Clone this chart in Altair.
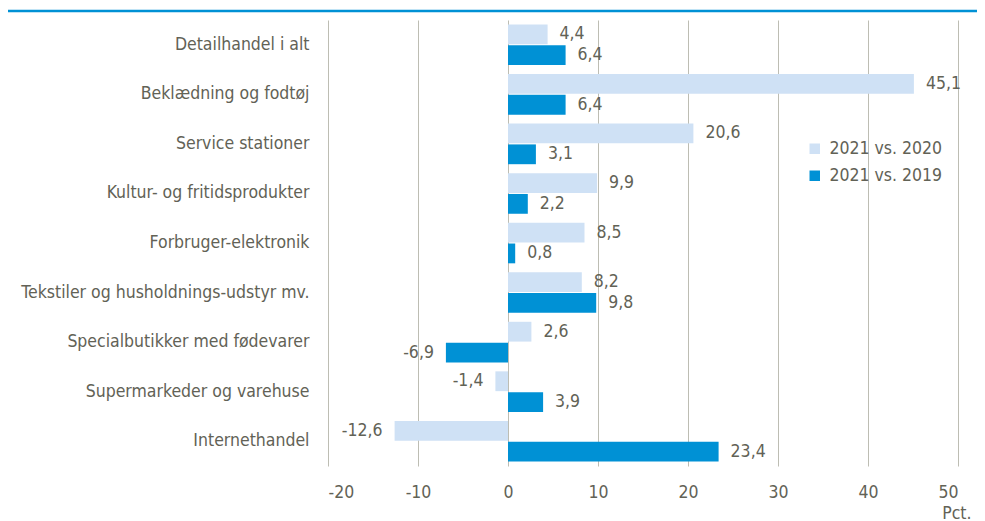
import altair as alt
import pandas as pd

categories = [
    "Detailhandel i alt",
    "Beklædning og fodtøj",
    "Service stationer",
    "Kultur- og fritidsprodukter",
    "Forbruger-elektronik",
    "Tekstiler og husholdnings-udstyr mv.",
    "Specialbutikker med fødevarer",
    "Supermarkeder og varehuse",
    "Internethandel",
]
series = ["2021 vs. 2020", "2021 vs. 2019"]
vs2020 = [4.4, 45.1, 20.6, 9.9, 8.5, 8.2, 2.6, -1.4, -12.6]
vs2019 = [6.4, 6.4, 3.1, 2.2, 0.8, 9.8, -6.9, 3.9, 23.4]
x_ticks = [-20, -10, 0, 10, 20, 30, 40, 50]

rows = []
for c, a, b in zip(categories, vs2020, vs2019):
    rows.append({"cat": c, "series": series[0], "v": a})
    rows.append({"cat": c, "series": series[1], "v": b})
df = pd.DataFrame(rows)
df["label"] = df["v"].map(lambda v: f"{v:.1f}".replace(".", ","))

FONT = "DejaVu Sans Condensed"
FS = 17.5
TXT = "#626256"
LIGHT = "#cfe1f5"
DARK = "#0091d5"

y_enc = alt.Y("cat:N", sort=categories, title=None,
              scale=alt.Scale(paddingInner=0.18, paddingOuter=0.09),
              axis=alt.Axis(ticks=False, domain=False, labelPadding=19,
                            labelFontSize=FS, labelColor=TXT, labelFont=FONT,
                            labelLimit=400))
yoff = alt.YOffset("series:N", sort=series, scale=alt.Scale(paddingInner=0.05))
x_enc = alt.X("v:Q", scale=alt.Scale(domain=[-20, 50], nice=False),
              axis=alt.Axis(values=x_ticks, ticks=False, domain=False,
                            labelExpr="toString(datum.value)",
                            labelPadding=17, labelFontSize=FS, labelColor=TXT,
                            labelFont=FONT, gridColor="#bdbdb3", gridWidth=1,
                            title="Pct.", titleAnchor="end", titleAlign="right",
                            titleX=643, titleY=38, titleFont=FONT, titleFontSize=FS,
                            titleFontWeight="normal", titleColor=TXT))

base = alt.Chart(df)

bars = base.mark_bar().encode(
    y=y_enc, yOffset=yoff, x=x_enc,
    color=alt.Color("series:N", sort=series,
                    scale=alt.Scale(domain=series, range=[LIGHT, DARK]),
                    legend=alt.Legend(title=None, orient="none", legendX=478, legendY=120,
                                      symbolType="square", symbolSize=110,
                                      symbolStrokeWidth=0, labelFontSize=FS,
                                      labelFont=FONT, labelColor=TXT,
                                      rowPadding=8, labelOffset=6)),
)

pos_labels = base.transform_filter("datum.v >= 0").mark_text(
    align="left", baseline="middle", dx=12, fontSize=FS, font=FONT, color=TXT
).encode(y=alt.Y("cat:N", sort=categories), yOffset=yoff, x="v:Q", text="label:N")

neg_labels = base.transform_filter("datum.v < 0").mark_text(
    align="right", baseline="middle", dx=-12, fontSize=FS, font=FONT, color=TXT
).encode(y=alt.Y("cat:N", sort=categories), yOffset=yoff, x="v:Q", text="label:N")

top_line = alt.Chart(pd.DataFrame({"a": [0]})).mark_rule(
    color="#0091d5", strokeWidth=2.5
).encode(x=alt.value(-320), x2=alt.value(660), y=alt.value(-9))

chart = alt.layer(bars, pos_labels, neg_labels, top_line).properties(
    width=630, height=446,
    autosize=alt.AutoSizeParams(type="none"),
    padding={"left": 320, "top": 12, "right": 19, "bottom": 55},
).configure_view(stroke=None).configure_axis(labelFont=FONT)

chart.save("out.html", embed_options={"renderer": "svg", "actions": False})
